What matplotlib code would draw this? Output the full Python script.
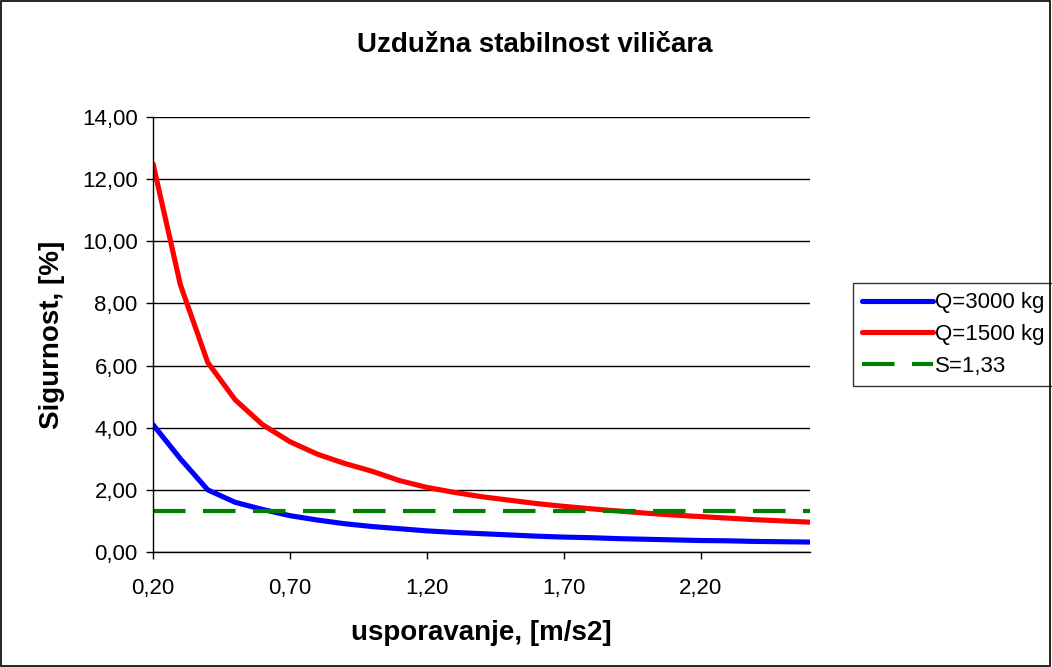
import matplotlib
matplotlib.use("Agg")
import matplotlib.pyplot as plt
from matplotlib.patches import Rectangle

plt.rcParams['font.family'] = ['Liberation Sans', 'DejaVu Sans']

# usporavanje [m/s2]
decel = [0.20, 0.30, 0.40, 0.50, 0.60, 0.70, 0.80, 0.90, 1.00, 1.10, 1.20, 1.30,
         1.40, 1.50, 1.60, 1.70, 1.80, 1.90, 2.00, 2.10, 2.20, 2.30, 2.40, 2.50, 2.60]
q3000 = [4.10, 3.00, 2.00, 1.60, 1.37, 1.17, 1.03, 0.91, 0.82, 0.75, 0.68, 0.63,
         0.59, 0.55, 0.51, 0.48, 0.46, 0.43, 0.41, 0.39, 0.37, 0.36, 0.34, 0.33, 0.32]
q1500 = [12.50, 8.60, 6.10, 4.90, 4.10, 3.55, 3.15, 2.85, 2.60, 2.30, 2.08, 1.92,
         1.78, 1.67, 1.56, 1.47, 1.39, 1.32, 1.25, 1.19, 1.14, 1.09, 1.04, 1.00, 0.96]
s_limit = 1.33
y_ticks = [0, 2, 4, 6, 8, 10, 12, 14]

fig = plt.figure(figsize=(10.52, 6.67), dpi=100)
fig.patches.append(Rectangle((0.0005, 0.0008), 0.998, 0.998, transform=fig.transFigure,
                             fill=False, edgecolor='black', linewidth=1.2))

ax = fig.add_axes([153 / 1052, 1 - 552 / 667, (810 - 153) / 1052, (552 - 117) / 667])

idx = list(range(len(decel)))
ax.plot(idx, q3000, color='#0000ff', lw=3.7, label='Q=3000 kg', solid_capstyle='round')
ax.plot(idx, q1500, color='#ff0000', lw=3.7, label='Q=1500 kg', solid_capstyle='round')
ax.plot(idx, [s_limit] * len(idx), color='#008000', lw=3.0, dashes=(7.8, 4.2),
        label='S=1,33')

ax.set_xlim(0, len(decel) - 1)
ax.set_ylim(0, 14)
ax.set_yticks(y_ticks)
ax.set_yticklabels([f"{v:.2f}".replace('.', ',') for v in y_ticks])
xt = idx[::5]
ax.set_xticks(xt)
ax.set_xticklabels([f"{decel[i]:.2f}".replace('.', ',') for i in xt])
ax.tick_params(direction='out', length=5, width=1, labelsize=16, colors='black')
ax.tick_params(axis='x', pad=14)
ax.tick_params(axis='y', pad=6)

ax.grid(axis='y', color='black', lw=1)
ax.set_axisbelow(True)
for side in ('top', 'right'):
    ax.spines[side].set_visible(False)
for side in ('left', 'bottom'):
    ax.spines[side].set_linewidth(1)

ax.set_xlabel('usporavanje, [m/s2]', fontsize=20, fontweight='bold', labelpad=15)
ax.set_ylabel('Sigurnost, [%]', fontsize=20, fontweight='bold', labelpad=12)
fig.text(535 / 1052, 1 - 45 / 667, 'Uzdužna stabilnost viličara', ha='center', va='center',
         fontsize=20, fontweight='bold')

# legend box runs off the right edge of the figure
leg = ax.legend(loc='upper left',
                bbox_to_anchor=(853 / 1052, 1 - 386 / 667, 210 / 1052, 103 / 667),
                mode='expand', bbox_transform=fig.transFigure, fontsize=16,
                frameon=True, fancybox=False, edgecolor='black', handlelength=3.2,
                handletextpad=0.05, borderpad=0.42, labelspacing=0.48, borderaxespad=0)
leg.get_frame().set_linewidth(1)

fig.savefig('out.png', dpi=100)
